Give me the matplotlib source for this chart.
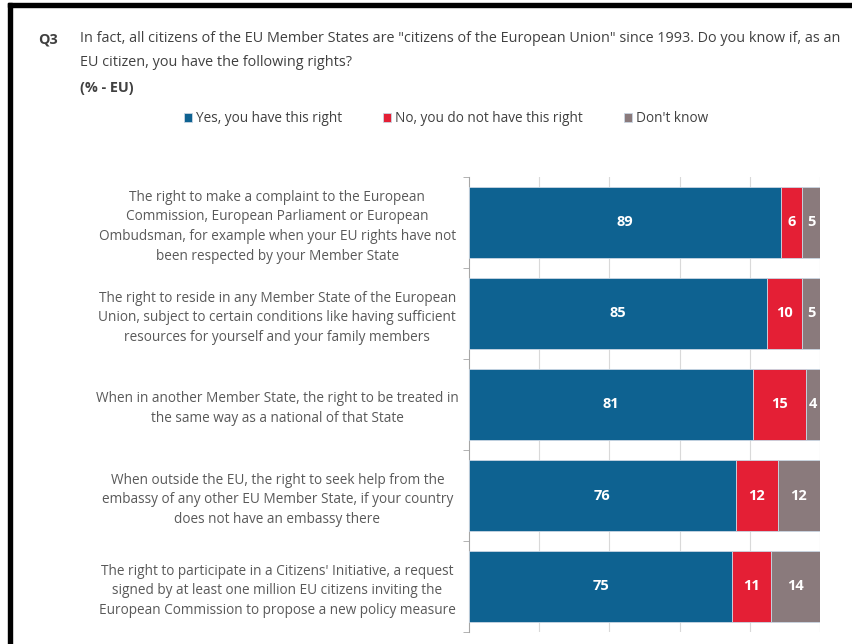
import numpy as np
from matplotlib import pyplot as plt
from matplotlib.patches import Rectangle

categories = [
    "The right to make a complaint to the European\nCommission, European Parliament or European\nOmbudsman, for example when your EU rights have not\nbeen respected by your Member State",
    "The right to reside in any Member State of the European\nUnion, subject to certain conditions like having sufficient\nresources for yourself and your family members",
    "When in another Member State, the right to be treated in\nthe same way as a national of that State",
    "When outside the EU, the right to seek help from the\nembassy of any other EU Member State, if your country\ndoes not have an embassy there",
    "The right to participate in a Citizens' Initiative, a request\nsigned by at least one million EU citizens inviting the\nEuropean Commission to propose a new policy measure",
]
yes_vals = [89, 85, 81, 76, 75]
no_vals = [6, 10, 15, 12, 11]
dk_vals = [5, 5, 4, 12, 14]
series_names = ["Yes, you have this right", "No, you do not have this right", "Don't know"]
colors = ["#0e6291", "#e41f35", "#8a7a7c"]

plt.rcParams['font.family'] = ['Open Sans', 'DejaVu Sans']

fig = plt.figure(figsize=(8.52, 6.44), dpi=100)
W, H = 852, 644

# screenshot frame (top and left edges)
fig.patches.append(Rectangle((8 / W, 0), 4 / W, 1 - 3 / H, transform=fig.transFigure,
                             color="black", zorder=10))
fig.patches.append(Rectangle((8 / W, 1 - 7 / H), 1, 4 / H, transform=fig.transFigure,
                             color="black", zorder=10))

ax = fig.add_axes([469 / W, 1 - 632 / H, 351 / W, 455 / H])

y = np.arange(len(categories))
left = np.zeros(len(categories))
for vals, name, col in zip([yes_vals, no_vals, dk_vals], series_names, colors):
    bars = ax.barh(y, vals, left=left, height=0.77, color=col, label=name,
                   edgecolor="#c9d6e3", linewidth=0.6, zorder=3)
    for b, v in zip(bars, vals):
        ax.text(b.get_x() + b.get_width() / 2, b.get_y() + b.get_height() / 2, str(v),
                ha="center", va="center", color="white", fontsize=10.5, fontweight="bold",
                zorder=4)
    left += np.array(vals)

ax.set_xlim(0, 100)
ax.set_ylim(len(categories) - 0.5, -0.5)
ax.set_xticks([20, 40, 60, 80, 100])
ax.xaxis.grid(True, color="#d9d9d9", linewidth=0.8, zorder=0)
ax.tick_params(axis="x", length=0, labelbottom=False)
ax.set_yticks(y)
ax.set_yticklabels(categories, fontsize=9.8, color="#595959", ha="center",
                   linespacing=1.44)
ax.tick_params(axis="y", which="major", length=0, pad=138)
ax.set_yticks(np.arange(-0.5, len(categories), 1), minor=True)
ax.tick_params(axis="y", which="minor", length=4, color="#a6a6a6", direction="out")
for s in ["top", "right", "bottom"]:
    ax.spines[s].set_visible(False)
ax.spines["left"].set_color("#a6a6a6")

fig.text(38 / W, 1 - 39 / H, "Q3", fontsize=10.4, fontweight="bold", color="#404040",
         va="center")
fig.text(80 / W, 1 - 39 / H,
         'In fact, all citizens of the EU Member States are "citizens of the European Union" since 1993. Do you know if, as an',
         fontsize=10.4, color="#404040", va="center")
fig.text(80 / W, 1 - 63 / H, "EU citizen, you have the following rights?",
         fontsize=10.4, color="#404040", va="center")
fig.text(80 / W, 1 - 88 / H, "(% - EU)", fontsize=10.4, fontweight="bold",
         color="#404040", va="center")

fig.legend(loc="center", bbox_to_anchor=(446 / W, 1 - 119 / H), ncol=3, frameon=False,
           fontsize=9.8, handlelength=0.6, handleheight=0.6, handletextpad=0.3,
           columnspacing=3.0, labelcolor="#404040")

fig.savefig("out.png", dpi=100)
